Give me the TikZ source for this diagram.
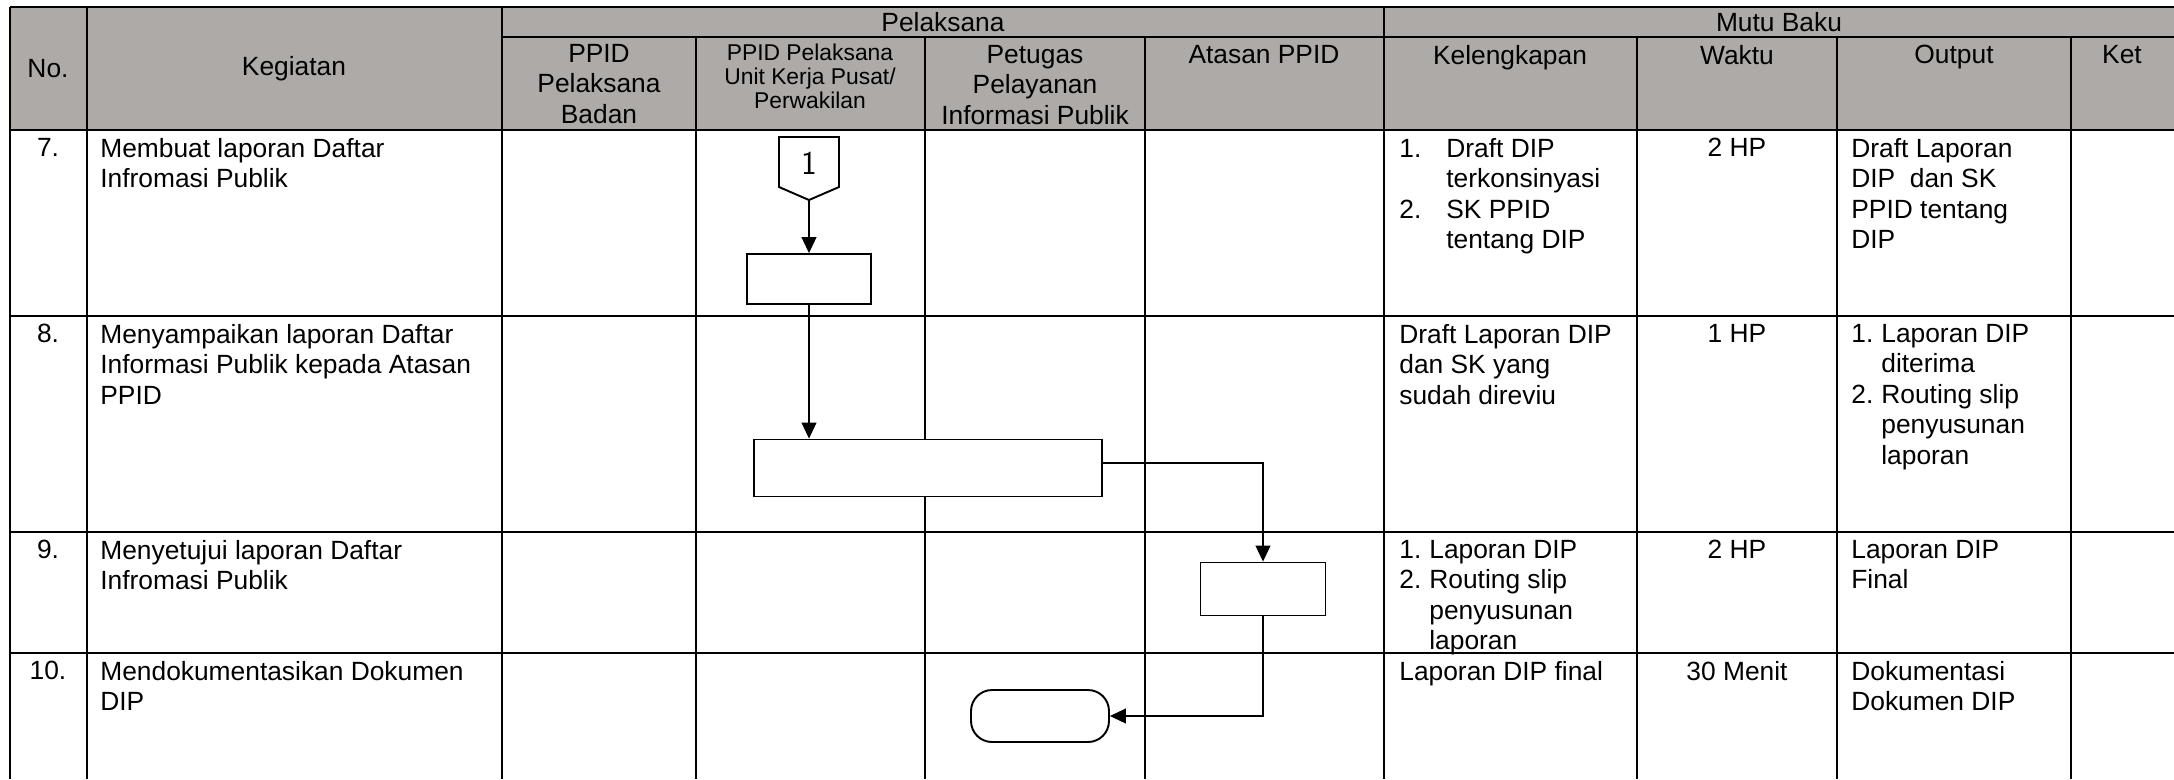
\documentclass[tikz,border=0pt]{standalone}
\usepackage{fontspec}
\setmainfont{Liberation Sans}
\usetikzlibrary{arrows.meta,calc}
\definecolor{hdrgray}{RGB}{174,170,168}
\def\numlbl#1#2{\makebox[#1][l]{#2}}

\tikzset{
  tabline/.style={line width=1.1pt},
  rowline/.style={line width=1.6pt},
  txt/.style={inner sep=0pt, font=\fontsize{15}{17.3}\selectfont},
  cell/.style={txt, anchor=north west, align=left},
  hd/.style={txt, anchor=north, align=center},
  proc/.style={draw, fill=white, line width=1.1pt, inner sep=0pt},
  flow/.style={line width=0.6pt, -{Triangle[length=0.32cm,width=0.3cm]}},
}

\begin{document}
\begin{tikzpicture}[x=0.02cm,y=-0.02cm]
		%%%%% START %%%%%
		\useasboundingbox (0,0) rectangle (2174,779);
		
		\fill[hdrgray] (10,7) rectangle (2174,130);
		
		\draw[tabline] (10,7) -- (2174,7);
		\draw[tabline] (502,37) -- (2174,37);
		\draw[rowline] (10,130) -- (2174,130);
		\foreach \y in {316,532,653} \draw[rowline] (10,\y) -- (2174,\y);
		\foreach \x in {10,87,502,1384} \draw[tabline] (\x,7) -- (\x,779);
		\foreach \x in {696,925,1145,1637,1837,2071} \draw[tabline] (\x,37) -- (\x,779);
		
		\node[hd, anchor=center] (hNo) at (48,69) {No.};
		\node[hd, anchor=center] (hKeg) at (294,69) {Kegiatan};
		\node[hd, anchor=center] (hPel) at (943,22) {Pelaksana};
		\node[hd, anchor=center] (hMutu) at (1779,22) {Mutu Baku};
		\node[hd] (hBadan) at (599,44) {PPID\\Pelaksana\\Badan};
		\node[hd, font=\fontsize{13}{13.5}\selectfont] (hUnit) at (810,44) {PPID Pelaksana\\Unit Kerja Pusat/\\Perwakilan};
		\node[hd] (hPetugas) at (1035,45) {Petugas\\Pelayanan\\Informasi Publik};
		\node[hd] (hAtasan) at (1264,45) {Atasan PPID};
		\node[hd] (hLengkap) at (1510,45) {Kelengkapan};
		\node[hd] (hWaktu) at (1737,45) {Waktu};
		\node[hd] (hOutput) at (1954,45) {Output};
		\node[hd] (hKet) at (2122,45) {Ket};
		
		% row 7
		\node[hd] (n7) at (48,138) {7.};
		\node[cell] (k7) at (100,138) {Membuat laporan Daftar\\Infromasi Publik};
		\node[cell] (l7) at (1399,138) {\numlbl{0.94cm}{1.}Draft DIP\\\hspace*{0.94cm}terkonsinyasi\\\numlbl{0.94cm}{2.}SK PPID\\\hspace*{0.94cm}tentang DIP};
		\node[hd] (w7) at (1737,138) {2 HP};
		\node[cell] (o7) at (1851,138) {Draft Laporan\\DIP\ \ dan SK\\PPID tentang\\DIP};
		
		% row 8
		\node[hd] (n8) at (48,324) {8.};
		\node[cell] (k8) at (100,324) {Menyampaikan laporan Daftar\\Informasi Publik kepada Atasan\\PPID};
		\node[cell] (l8) at (1399,324) {Draft Laporan DIP\\dan SK yang\\sudah direviu};
		\node[hd] (w8) at (1737,324) {1 HP};
		\node[cell] (o8) at (1851,324) {\numlbl{0.6cm}{1.}Laporan DIP\\\hspace*{0.6cm}diterima\\\numlbl{0.6cm}{2.}Routing slip\\\hspace*{0.6cm}penyusunan\\\hspace*{0.6cm}laporan};
		
		% row 9
		\node[hd] (n9) at (48,540) {9.};
		\node[cell] (k9) at (100,540) {Menyetujui laporan Daftar\\Infromasi Publik};
		\node[cell] (l9) at (1399,540) {\numlbl{0.6cm}{1.}Laporan DIP\\\numlbl{0.6cm}{2.}Routing slip\\\hspace*{0.6cm}penyusunan\\\hspace*{0.6cm}laporan};
		\node[hd] (w9) at (1737,540) {2 HP};
		\node[cell] (o9) at (1851,540) {Laporan DIP\\Final};
		
		% row 10
		\node[hd] (n10) at (48,661) {10.};
		\node[cell] (k10) at (100,661) {Mendokumentasikan Dokumen\\DIP};
		\node[cell] (l10) at (1399,661) {Laporan DIP final};
		\node[hd] (w10) at (1737,661) {30 Menit};
		\node[cell] (o10) at (1851,661) {Dokumentasi\\Dokumen DIP};
		
		% flow
		\draw[line width=1.1pt] (779,137) -- (839,137) -- (839,187) -- (809,200) -- (779,187) -- cycle;
		\node[font=\sffamily\fontsize{19}{21}\selectfont] (con1) at (809,163) {1};
		\coordinate (con1tip) at (809,200);
		
		\node[proc, minimum width=2.48cm, minimum height=1cm] (b7) at (809,279) {};
		\node[proc, minimum width=6.96cm, minimum height=1.14cm] (b8) at (928,468) {};
		\node[proc, minimum width=2.5cm, minimum height=1.06cm] (b9) at (1263,589) {};
		\node[proc, rounded corners=0.42cm, minimum width=2.76cm, minimum height=1.04cm] (b10) at (1040,716) {};
		
		\draw[flow] (con1tip) -- (b7.north);
		\draw[flow] (b7.south) -- (b7.south |- b8.north);
		\draw[flow] ([yshift=0.1cm]b8.east) -| (b9.north);
		\draw[flow] (b9.south) |- (b10.east);
		
		%%%%% END %%%%%
\end{tikzpicture}
\end{document}
